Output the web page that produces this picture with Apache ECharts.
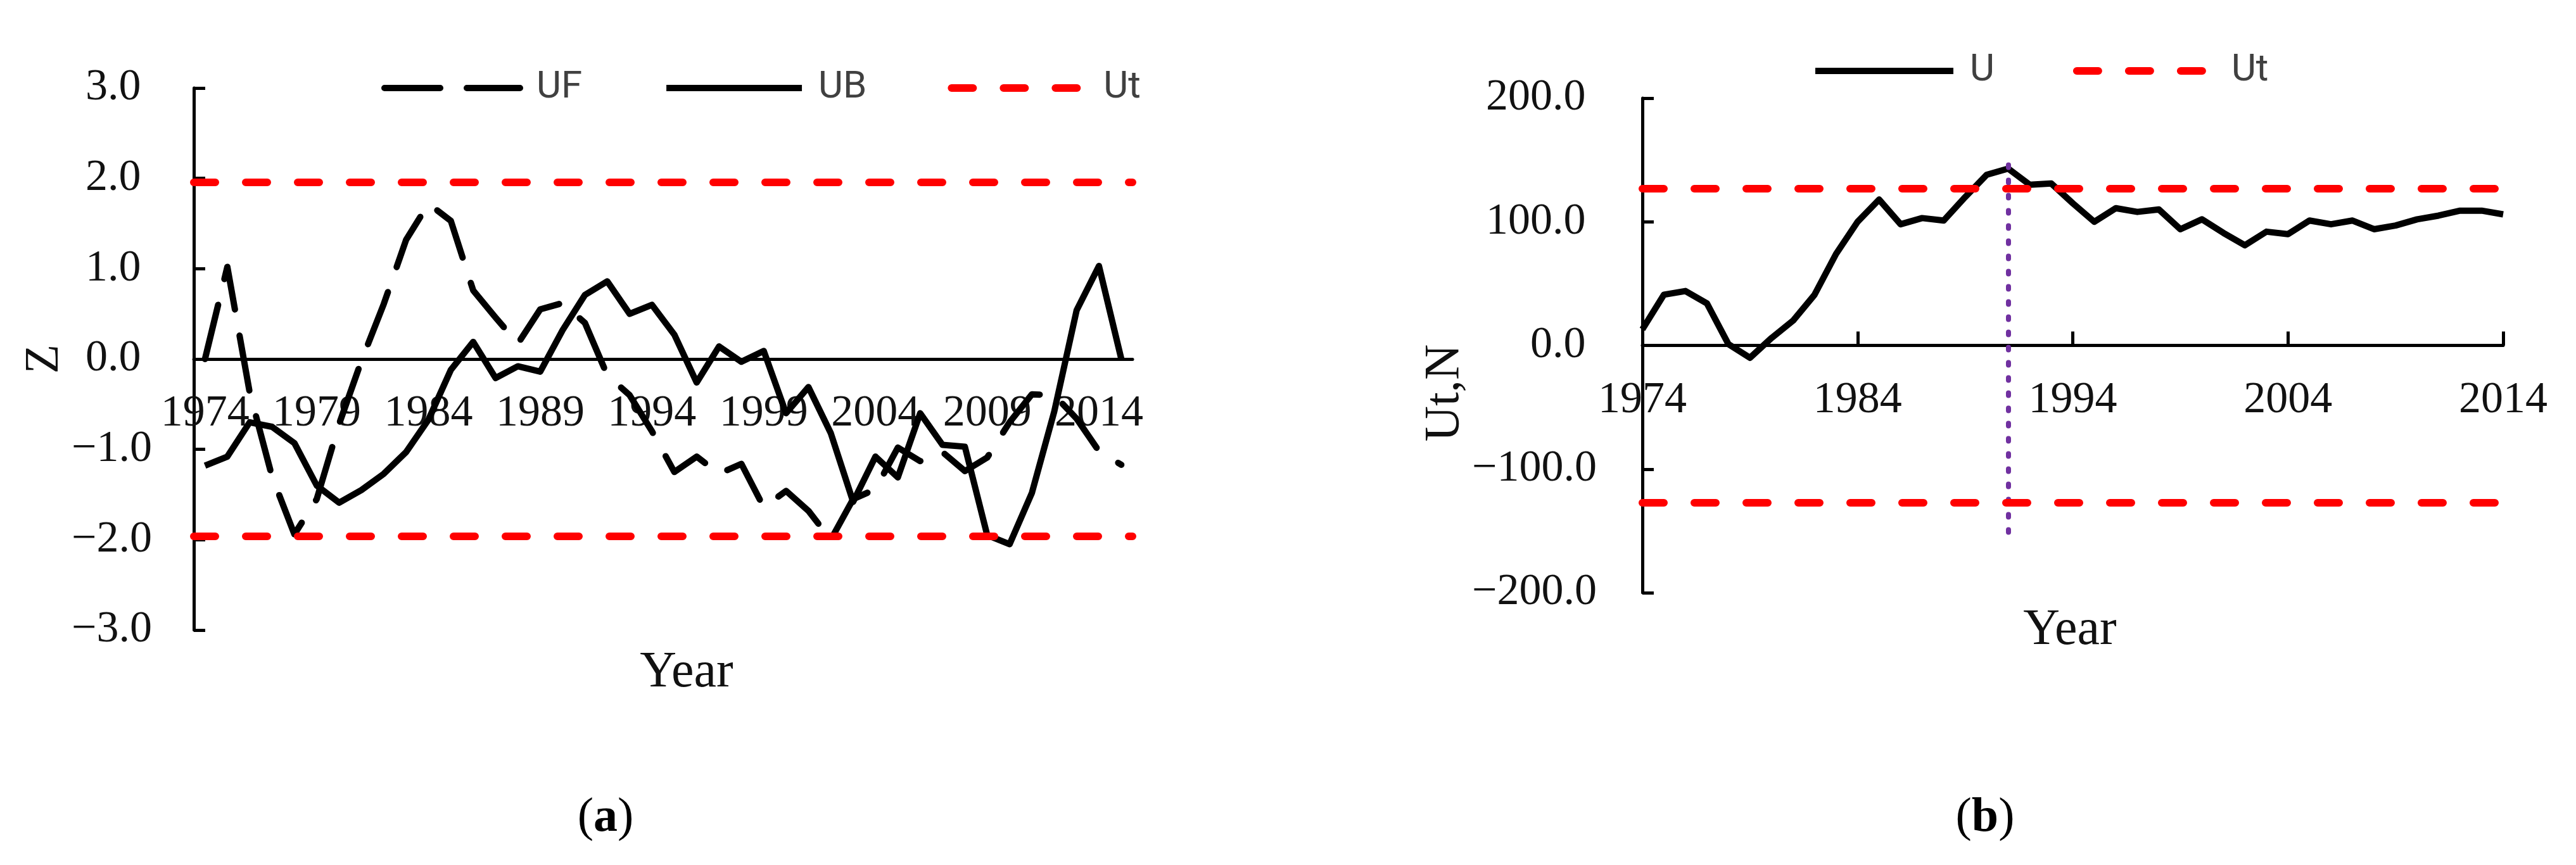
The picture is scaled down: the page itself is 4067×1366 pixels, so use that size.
<!DOCTYPE html>
<html>
<head>
<meta charset="UTF-8">
<title>Mann-Kendall and Pettitt test</title>
<script src="https://cdn.jsdelivr.net/npm/echarts@6/dist/echarts.min.js"></script>
<style>
  html, body { margin: 0; padding: 0; background: #fff; }
  #main { width: 4067px; height: 1366px; }
</style>
</head>
<body>
<div id="main"></div>
<script>
// (a) Mann-Kendall: UF / UB, years 1974-2015
var yearsA = ['1974','1975','1976','1977','1978','1979','1980','1981','1982','1983',
              '1984','1985','1986','1987','1988','1989','1990','1991','1992','1993',
              '1994','1995','1996','1997','1998','1999','2000','2001','2002','2003',
              '2004','2005','2006','2007','2008','2009','2010','2011','2012','2013',
              '2014','2015'];
var ufData = [0.00, 1.02, -0.37, -1.30, -1.94, -1.55, -0.72, -0.02, 0.61, 1.32,
              1.72, 1.53, 0.76, 0.46, 0.17, 0.55, 0.62, 0.40, -0.18, -0.40,
              -0.80, -1.25, -1.08, -1.27, -1.16, -1.64, -1.46, -1.68, -2.00, -1.55,
              -1.44, -0.98, -1.13, -1.03, -1.24, -1.09, -0.70, -0.39, -0.40, -0.66,
              -1.02, -1.17];
var ubData = [-1.18, -1.08, -0.70, -0.75, -0.93, -1.40, -1.59, -1.45, -1.27, -1.03,
              -0.67, -0.12, 0.19, -0.21, -0.08, -0.14, 0.32, 0.71, 0.86, 0.50,
              0.60, 0.27, -0.26, 0.14, -0.03, 0.09, -0.60, -0.31, -0.82, -1.58,
              -1.08, -1.31, -0.60, -0.95, -0.97, -1.95, -2.05, -1.48, -0.58, 0.54,
              1.03, 0.00];
var utA = 1.96;

// (b) Pettitt: U, years 1974-2014
var yearsB = ['1974','1975','1976','1977','1978','1979','1980','1981','1982','1983',
              '1984','1985','1986','1987','1988','1989','1990','1991','1992','1993',
              '1994','1995','1996','1997','1998','1999','2000','2001','2002','2003',
              '2004','2005','2006','2007','2008','2009','2010','2011','2012','2013',
              '2014'];
var uData = [13, 41, 44, 34, 1, -10, 6, 20, 41, 74,
             100, 118, 98, 103, 101, 120, 138, 143, 130, 131,
             115, 100, 111, 108, 110, 94, 102, 91, 81, 92,
             90, 101, 98, 101, 94, 97, 102, 105, 109, 109,
             106];
var utB = 127;
var changeYear = '1991';
var changeSpan = [146, -152];

// axis ranges: [min, max, step]
var yTicksA = [-3, 3, 1];
var yTicksB = [-200, 200, 100];

var serif = 'Liberation Serif';
var ink = '#111';
var axisStyle = { color: '#000', width: 5 };
var redDash = { color: '#ff0000', width: 12, type: [34, 48], cap: 'round' };

// plot boxes
var gridA = { left: 306, top: 139, width: 1482, height: 856 };
var gridB = { left: 2593, top: 155, width: 1359, height: 781 };

// excel style number format: positives keep a trailing blank
function fmt(v) {
  var s = Math.abs(v).toFixed(1);
  return v < 0 ? '\u2212' + s : s + '\u00a0';
}

// the year axis sits on y = 0, which is the middle of both plots
function zeroOffset(grid, range) {
  return -grid.height * (0 - range[0]) / (range[1] - range[0]);
}

function legendOf(left, top, w, gap, names) {
  return {
    left: left, top: top, padding: 0, itemWidth: w, itemHeight: 14, itemGap: gap,
    selectedMode: false, data: names,
    itemStyle: { opacity: 0 },
    lineStyle: { width: 'inherit', type: 'inherit', cap: 'inherit' },
    textStyle: { fontFamily: 'Roboto', fontSize: 60, color: '#404040', padding: [0, 0, 0, 21] }
  };
}

var myChart = echarts.init(document.getElementById('main'));

var option = {
  animation: false,
  backgroundColor: '#fff',
  grid: [
    Object.assign({ outerBoundsMode: 'none' }, gridA),
    Object.assign({ outerBoundsMode: 'none' }, gridB)
  ],
  legend: [
    legendOf(602, 109, 214, 128, ['UF', 'UB', 'Ut']),
    legendOf(2861, 82, 218, 124, ['U', 'Ut'])
  ],
  xAxis: [
    {
      type: 'category', gridIndex: 0, data: yearsA, boundaryGap: true,
      position: 'bottom', offset: zeroOffset(gridA, yTicksA),
      axisLine: { onZero: false, lineStyle: axisStyle },
      axisTick: { inside: true, length: 22, interval: 4, lineStyle: axisStyle },
      axisLabel: { interval: 4, margin: 52, fontFamily: serif, fontSize: 70, color: ink },
      splitLine: { show: false }
    },
    {
      type: 'category', gridIndex: 1, data: yearsB, boundaryGap: false,
      position: 'bottom', offset: zeroOffset(gridB, yTicksB),
      axisLine: { onZero: false, lineStyle: axisStyle },
      axisTick: { inside: true, length: 22, interval: 9, lineStyle: axisStyle },
      axisLabel: { interval: 9, margin: 52, fontFamily: serif, fontSize: 70, color: ink },
      splitLine: { show: false }
    }
  ],
  yAxis: [
    {
      type: 'value', gridIndex: 0, min: yTicksA[0], max: yTicksA[1], interval: yTicksA[2],
      axisLine: { show: true, onZero: false, lineStyle: axisStyle },
      axisTick: { show: true, inside: true, length: 18, lineStyle: axisStyle },
      axisLabel: { margin: 66, formatter: fmt, fontFamily: serif, fontSize: 70, color: ink },
      splitLine: { show: false },
      name: 'Z', nameLocation: 'middle', nameGap: 190, nameRotate: 90,
      nameTextStyle: { fontFamily: serif, fontSize: 76, color: ink }
    },
    {
      type: 'value', gridIndex: 1, min: yTicksB[0], max: yTicksB[1], interval: yTicksB[2],
      axisLine: { show: true, onZero: false, lineStyle: axisStyle },
      axisTick: { show: true, inside: true, length: 18, lineStyle: axisStyle },
      axisLabel: { margin: 72, formatter: fmt, fontFamily: serif, fontSize: 70, color: ink },
      splitLine: { show: false },
      name: 'Ut,N', nameLocation: 'middle', nameGap: 262, nameRotate: 90,
      nameTextStyle: { fontFamily: serif, fontSize: 78, color: ink, padding: [0, 150, 0, 0] }
    }
  ],
  series: [
    {
      name: 'UF', type: 'line', xAxisIndex: 0, yAxisIndex: 0, data: ufData,
      symbol: 'none', color: '#000',
      lineStyle: { color: '#000', width: 10, type: [88, 42], cap: 'round', join: 'round' }
    },
    {
      name: 'UB', type: 'line', xAxisIndex: 0, yAxisIndex: 0, data: ubData,
      symbol: 'none', color: '#000',
      lineStyle: { color: '#000', width: 10, join: 'round' }
    },
    {
      name: 'Ut', type: 'line', xAxisIndex: 0, yAxisIndex: 0, data: [],
      symbol: 'none', color: '#ff0000', lineStyle: redDash,
      markLine: {
        silent: true, symbol: 'none', label: { show: false }, lineStyle: redDash,
        data: [{ yAxis: utA }, { yAxis: -utA }]
      }
    },
    {
      name: 'U', type: 'line', xAxisIndex: 1, yAxisIndex: 1, data: uData,
      symbol: 'none', color: '#000',
      lineStyle: { color: '#000', width: 10, join: 'round' },
      // 突变年份
      markLine: {
        silent: true, symbol: 'none', label: { show: false },
        lineStyle: { color: '#7030a0', width: 8, type: [4, 20], cap: 'round' },
        data: [[{ coord: [changeYear, changeSpan[0]] }, { coord: [changeYear, changeSpan[1]] }]]
      }
    },
    {
      name: 'Ut', type: 'line', xAxisIndex: 1, yAxisIndex: 1, data: [],
      symbol: 'none', color: '#ff0000', lineStyle: redDash,
      markLine: {
        silent: true, symbol: 'none', label: { show: false }, lineStyle: redDash,
        data: [{ yAxis: utB }, { yAxis: -utB }]
      }
    }
  ],
  graphic: [
    { type: 'text', x: 1084, y: 1063,
      style: { text: 'Year', font: '80px "Liberation Serif"', fill: ink, align: 'center', verticalAlign: 'middle' } },
    { type: 'text', x: 3268, y: 996,
      style: { text: 'Year', font: '80px "Liberation Serif"', fill: ink, align: 'center', verticalAlign: 'middle' } },
    { type: 'text', x: 956, y: 1292,
      style: { text: '{p|(}{b|a}{p|)}', align: 'center', verticalAlign: 'middle',
        rich: { p: { fontFamily: serif, fontSize: 76, fill: '#000' },
                b: { fontFamily: serif, fontSize: 76, fontWeight: 'bold', fill: '#000' } } } },
    { type: 'text', x: 3134, y: 1292,
      style: { text: '{p|(}{b|b}{p|)}', align: 'center', verticalAlign: 'middle',
        rich: { p: { fontFamily: serif, fontSize: 76, fill: '#000' },
                b: { fontFamily: serif, fontSize: 76, fontWeight: 'bold', fill: '#000' } } } }
  ]
};

myChart.setOption(option);
</script>
</body>
</html>
